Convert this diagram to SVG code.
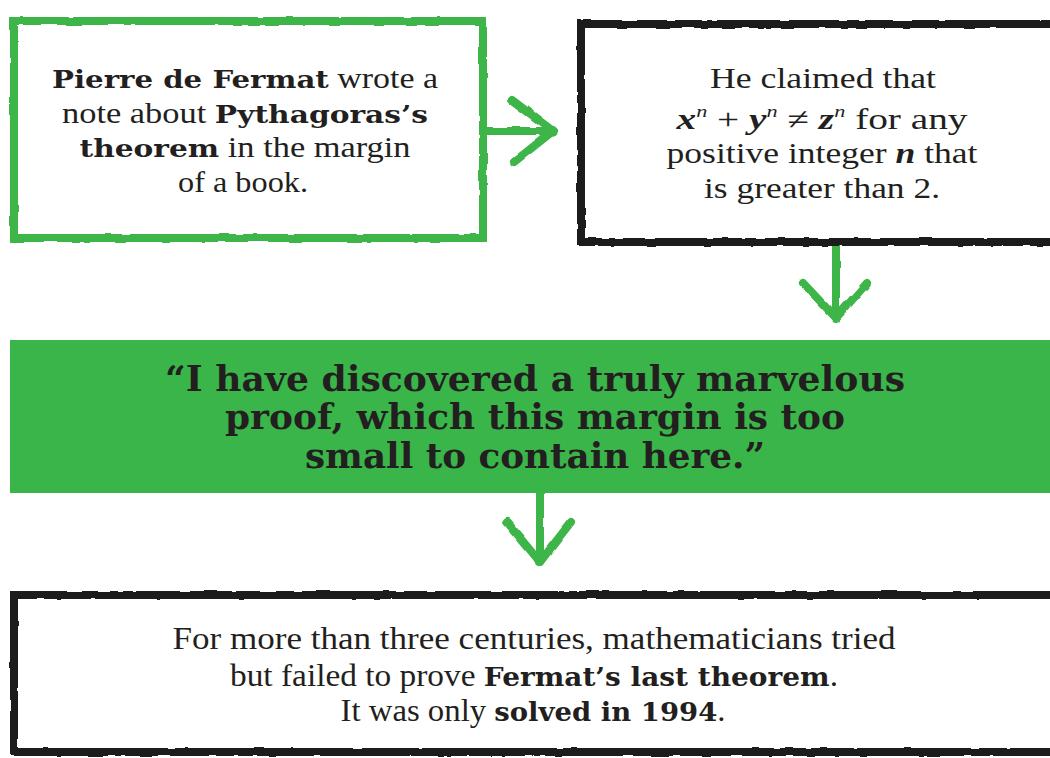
<svg xmlns="http://www.w3.org/2000/svg" width="1050" height="758" viewBox="0 0 1050 758">
<defs>
<filter id="rough" x="-5%" y="-5%" width="110%" height="110%">
<feTurbulence type="fractalNoise" baseFrequency="0.06" numOctaves="2" seed="3" result="n"/>
<feDisplacementMap in="SourceGraphic" in2="n" scale="3" xChannelSelector="R" yChannelSelector="G"/>
</filter>
<style>
.gbox{fill:#fff;stroke:#3cb54a;stroke-width:8}
.kbox{fill:#fff;stroke:#1c1a1a;stroke-width:8}
.arr{fill:none;stroke:#3cb54a;stroke-width:8;stroke-linecap:round;stroke-linejoin:round}
.t{font-family:"Liberation Serif","DejaVu Serif",serif;fill:#231f20;text-anchor:middle}
.b{font-family:"DejaVu Serif",serif;font-weight:bold}
.m{font-family:"Liberation Serif",serif;font-style:italic}
.q{font-family:"DejaVu Serif",serif;font-weight:bold;fill:#231f20;text-anchor:middle;font-size:36px}
</style>
</defs>
<rect width="1050" height="758" fill="#fff"/>
<g id="connectors" filter="url(#rough)">
<path class="arr" d="M487 131 L552 131 M512 100 L553 131 L514 162"/>
<path class="arr" d="M836 246 L836 318 M803 283 L836 318 L867 283"/>
<path class="arr" d="M540 493 L540 562 M507 522 L540 562 L571 522"/>
</g>
<g id="node1">
<rect class="gbox" x="14" y="21" width="469" height="217" filter="url(#rough)"/>
<text class="t" font-size="29"><tspan x="245" y="88" textLength="386" lengthAdjust="spacingAndGlyphs"><tspan class="b" font-size="25">Pierre de Fermat</tspan> wrote a</tspan></text>
<text class="t" font-size="29" x="245" y="123" textLength="366" lengthAdjust="spacingAndGlyphs">note about <tspan class="b" font-size="25">Pythagoras’s</tspan></text>
<text class="t" font-size="29" x="245" y="157" textLength="331" lengthAdjust="spacingAndGlyphs"><tspan class="b" font-size="25">theorem</tspan> in the margin</text>
<text class="t" font-size="29" x="243" y="192" textLength="130" lengthAdjust="spacingAndGlyphs">of a book.</text>
</g>
<g id="node2">
<rect class="kbox" x="581" y="24" width="480" height="218" filter="url(#rough)"/>
<text class="t" font-size="29" x="823" y="88" textLength="226" lengthAdjust="spacingAndGlyphs">He claimed that</text>
<text class="t" font-size="30" x="822" y="129" textLength="291" lengthAdjust="spacingAndGlyphs"><tspan class="m" font-weight="bold">x</tspan><tspan class="m" font-size="17" dy="-12">n</tspan><tspan dy="12"> + </tspan><tspan class="m" font-weight="bold">y</tspan><tspan class="m" font-size="17" dy="-12">n</tspan><tspan dy="12"> ≠ </tspan><tspan class="m" font-weight="bold">z</tspan><tspan class="m" font-size="17" dy="-12">n</tspan><tspan dy="12">  for any</tspan></text>
<text class="t" font-size="29" x="822" y="163" textLength="311" lengthAdjust="spacingAndGlyphs">positive integer <tspan class="m" font-weight="bold">n</tspan> that</text>
<text class="t" font-size="29" x="822" y="198" textLength="236" lengthAdjust="spacingAndGlyphs">is greater than 2.</text>
</g>
<g id="node3">
<rect x="10" y="340" width="1040" height="153" fill="#3ab54a"/>
<text class="q" x="535" y="391" textLength="740" lengthAdjust="spacingAndGlyphs">“I have discovered a truly marvelous</text>
<text class="q" x="535" y="429" textLength="620" lengthAdjust="spacingAndGlyphs">proof, which this margin is too</text>
<text class="q" x="535" y="468" textLength="460" lengthAdjust="spacingAndGlyphs">small to contain here.”</text>
</g>
<g id="node4">
<rect class="kbox" x="14" y="595" width="1050" height="157" filter="url(#rough)"/>
<text class="t" font-size="31" x="534" y="649" textLength="723" lengthAdjust="spacingAndGlyphs">For more than three centuries, mathematicians tried</text>
<text class="t" font-size="31" x="534" y="686" textLength="608" lengthAdjust="spacingAndGlyphs">but failed to prove <tspan class="b" font-size="26">Fermat’s last theorem</tspan>.</text>
<text class="t" font-size="31" x="533" y="721" textLength="385" lengthAdjust="spacingAndGlyphs">It was only <tspan class="b" font-size="26">solved in 1994</tspan>.</text>
</g>
</svg>
